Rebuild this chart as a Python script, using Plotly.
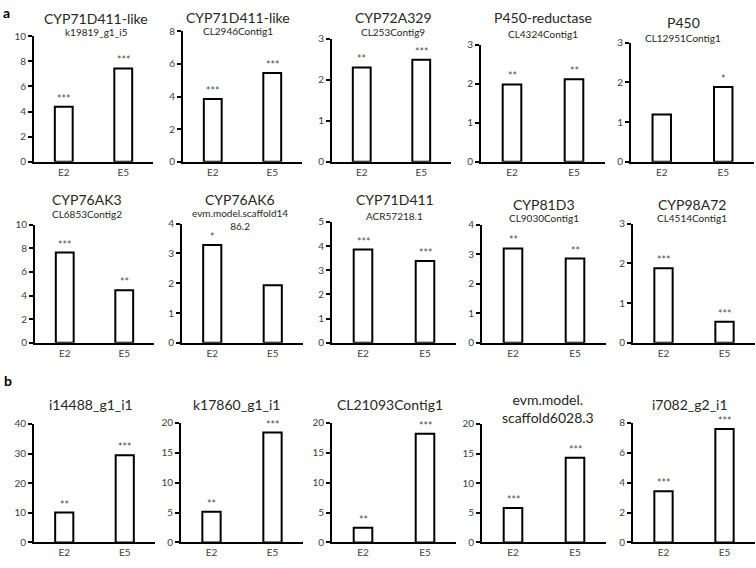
import plotly.graph_objects as go

# ---------------- data ----------------
categories = ["E2", "E5"]
gene_names = ["CYP71D411-like", "CYP71D411-like", "CYP72A329", "P450-reductase", "P450",
              "CYP76AK3", "CYP76AK6", "CYP71D411", "CYP81D3", "CYP98A72",
              "i14488_g1_i1", "k17860_g1_i1", "CL21093Contig1", "evm.model.<br>scaffold6028.3", "i7082_g2_i1"]
gene_ids = ["k19819_g1_i5", "CL2946Contig1", "CL253Contig9", "CL4324Contig1", "CL12951Contig1",
            "CL6853Contig2", "evm.model.scaffold14<br>86.2", "ACR57218.1", "CL9030Contig1", "CL4514Contig1",
            "", "", "", "", ""]
e2_values = [4.38, 3.85, 2.30, 1.98, 1.19, 7.64, 3.28, 3.86, 3.20, 1.88, 10.1, 5.16, 2.45, 5.8, 3.43]
e5_values = [7.44, 5.45, 2.49, 2.11, 1.88, 4.44, 1.93, 3.38, 2.86, 0.53, 29.4, 18.4, 18.2, 14.3, 7.6]
e2_stars = ["***", "***", "**", "**", "", "***", "*", "***", "**", "***", "**", "**", "**", "***", "***"]
e5_stars = ["***", "***", "***", "**", "*", "**", "", "***", "**", "***", "***", "***", "***", "***", "***"]
y_max = [10, 8, 3, 3, 3, 10, 4, 5, 4, 3, 40, 20, 20, 20, 8]
y_step = [2, 2, 1, 1, 1, 2, 1, 1, 1, 1, 10, 5, 5, 5, 2]
panel_letters = ["a", "b"]

# ---------------- layout (pixel boxes) ----------------
W, H = 756, 568
boxes = [  # x0, x1, y_top, y_base
    (34, 153, 30, 158.3), (183, 302, 25, 158.3), (332, 451, 32.5, 158.3), (481, 605, 38.5, 158.3), (631, 754, 36.5, 158.3),
    (35, 154, 222.7, 343.7), (182, 303, 221.7, 343.7), (332, 456, 220, 343.7), (482, 606, 223, 343.7), (633, 755, 221.7, 343.7),
    (34, 155, 426.7, 548), (181, 303, 425.7, 548), (332, 456, 425.7, 548), (482, 606, 426.7, 548), (633, 755, 425.7, 548),
]
title_pos = [  # cx, title y, subtitle y
    (96, 12, 26), (238, 10.5, 25), (393, 11, 25.5), (543, 11, 28), (683, 15.5, 31.5),
    (87, 197, 212), (240, 197, 217.5), (395, 197, 213.5), (544, 202, 216), (692, 202, 216),
    (91, 407, 0), (236, 407, 0), (390, 407, 0), (548, 410.5, 0), (690, 407, 0),
]

FONT = "Lato"
TXT = "#262626"
TICK = "#404040"

def px(x):
    return x / W

def py(y):
    return 1 - y / H

fig = go.Figure()
layout = dict(
    width=W, height=H, margin=dict(l=0, r=0, t=0, b=0),
    paper_bgcolor="white", plot_bgcolor="white", showlegend=False,
    font=dict(family=FONT, color=TXT),
)
annotations = []

for i in range(15):
    n = "" if i == 0 else str(i + 1)
    x0, x1, yt, yb = boxes[i]
    fig.add_trace(go.Bar(
        x=categories, y=[e2_values[i], e5_values[i]],
        xaxis="x" + n, yaxis="y" + n, width=0.3,
        marker=dict(color="white", line=dict(color="black", width=2)),
        hoverinfo="x+y",
    ))
    layout["xaxis" + n] = dict(
        domain=[px(x0), px(x1)], anchor="y" + n, type="category",
        range=[-0.5, 1.5], showline=True, linecolor="black", linewidth=2,
        ticks="", showgrid=False, zeroline=False, fixedrange=True,
        tickfont=dict(size=10, color=TICK, family=FONT), ticklabelstandoff=0,
    )
    layout["yaxis" + n] = dict(
        domain=[py(yb), py(yt)], anchor="x" + n,
        range=[0, y_max[i]], tick0=0, dtick=y_step[i],
        showline=True, linecolor="black", linewidth=2,
        ticks="outside", ticklen=4, tickcolor="black", tickwidth=1.5,
        showgrid=False, zeroline=False, fixedrange=True,
        tickfont=dict(size=10, color=TICK, family=FONT),
    )
    # significance stars
    for cat, val, st in zip(categories, [e2_values[i], e5_values[i]], [e2_stars[i], e5_stars[i]]):
        if st:
            annotations.append(dict(
                x=cat, y=val, xref="x" + n, yref="y" + n, text=st, showarrow=False,
                yanchor="bottom", yshift=0, font=dict(size=10.5, color="#505050", family=FONT),
            ))
    # titles
    cx, ty, sy = title_pos[i]
    annotations.append(dict(
        x=px(cx), y=py(ty), xref="paper", yref="paper", text=gene_names[i], showarrow=False,
        xanchor="center", yanchor="middle", font=dict(size=14, color=TXT, family=FONT),
    ))
    if gene_ids[i]:
        annotations.append(dict(
            x=px(cx), y=py(sy), xref="paper", yref="paper", text=gene_ids[i], showarrow=False,
            xanchor="center", yanchor="middle", font=dict(size=10, color=TXT, family=FONT),
        ))

for letter, (lx, ly) in zip(panel_letters, [(1, 6), (2, 382)]):
    annotations.append(dict(
        x=px(lx), y=py(ly), xref="paper", yref="paper", text="<b>" + letter + "</b>", showarrow=False,
        xanchor="left", yanchor="middle", font=dict(size=14, color="black", family=FONT),
    ))

layout["annotations"] = annotations
fig.update_layout(**layout)
fig.write_html("out.html", config={"displayModeBar": False},
               post_script="document.body.style.margin='0';")
